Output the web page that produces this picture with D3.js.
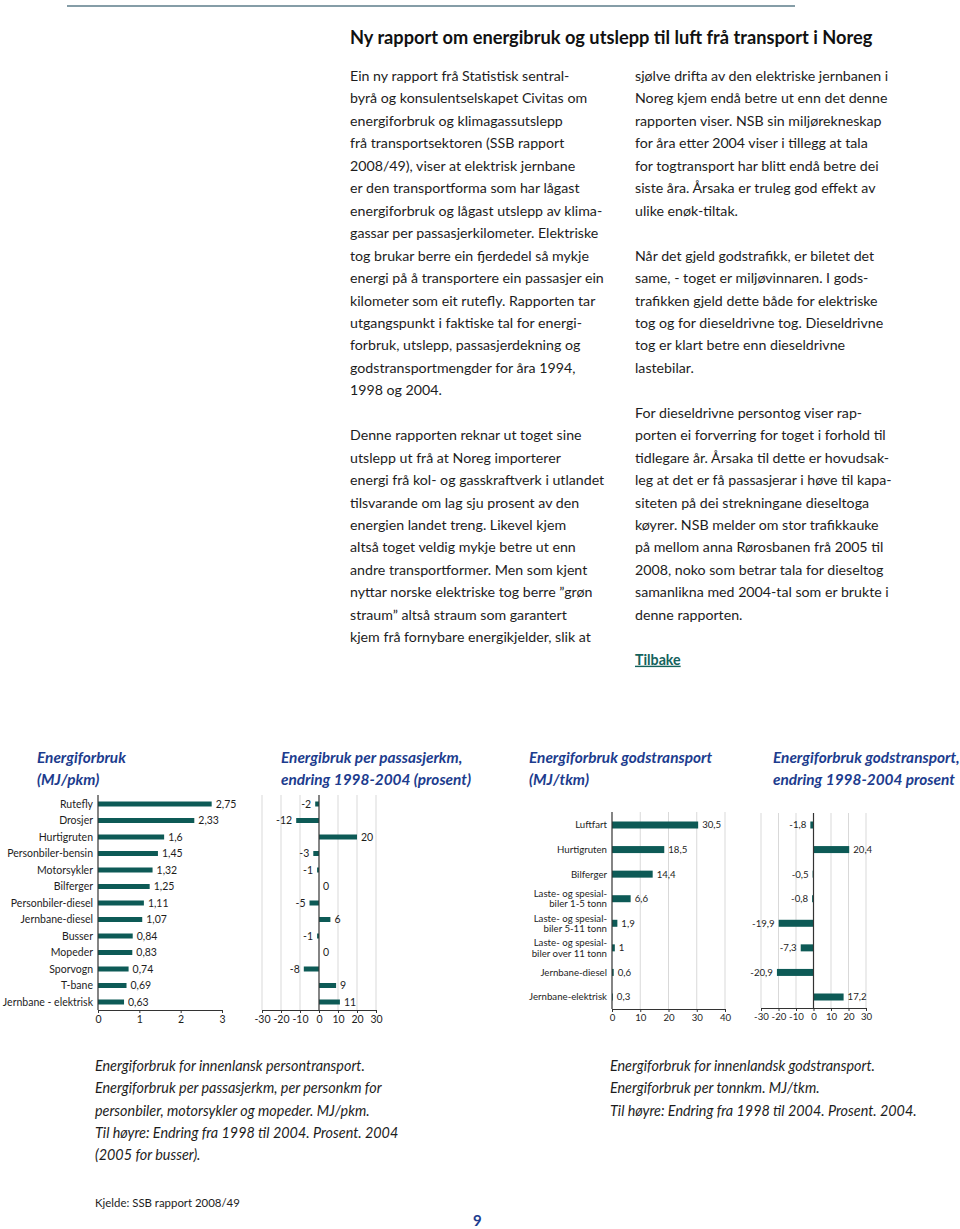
<!DOCTYPE html>
<html><head><meta charset="utf-8">
<script src="https://cdn.jsdelivr.net/npm/d3@7"></script>
<style>html,body{margin:0;padding:0;background:#fff;} svg{display:block;}</style>
</head><body>
<script>
// ---------- DATA ----------
const persCategories = ["Rutefly","Drosjer","Hurtigruten","Personbiler-bensin","Motorsykler","Bilferger","Personbiler-diesel","Jernbane-diesel","Busser","Mopeder","Sporvogn","T-bane","Jernbane - elektrisk"];
const persEnergy = [2.75,2.33,1.6,1.45,1.32,1.25,1.11,1.07,0.84,0.83,0.74,0.69,0.63];
const persChange = [-2,-12,20,-3,-1,0,-5,6,-1,0,-8,9,11];
const persEnergyTicks = [0,1,2,3];
const changeTicks = [-30,-20,-10,0,10,20,30];

const godsCategories = ["Luftfart","Hurtigruten","Bilferger","Laste- og spesial-\nbiler 1-5 tonn","Laste- og spesial-\nbiler 5-11 tonn","Laste- og spesial-\nbiler over 11 tonn","Jernbane-diesel","Jernbane-elektrisk"];
const godsEnergy = [30.5,18.5,14.4,6.6,1.9,1,0.6,0.3];
const godsChange = [-1.8,20.4,-0.5,-0.8,-19.9,-7.3,-20.9,17.2];
const godsEnergyTicks = [0,10,20,30,40];

const chartTitles = [
  ["Energiforbruk","(MJ/pkm)"],
  ["Energibruk per passasjerkm,","endring 1998-2004 (prosent)"],
  ["Energiforbruk godstransport","(MJ/tkm)"],
  ["Energiforbruk godstransport,","endring 1998-2004 prosent"]
];

const pageTitle = "Ny rapport om energibruk og utslepp til luft frå transport i Noreg";
const col1Lines = [
"Ein ny rapport frå Statistisk sentral-",
"byrå og konsulentselskapet Civitas om",
"energiforbruk og klimagassutslepp",
"frå transportsektoren (SSB rapport",
"2008/49), viser at elektrisk jernbane",
"er den transportforma som har lågast",
"energiforbruk og lågast utslepp av klima-",
"gassar per passasjerkilometer. Elektriske",
"tog brukar berre ein fjerdedel så mykje",
"energi på å transportere ein passasjer ein",
"kilometer som eit rutefly. Rapporten tar",
"utgangspunkt i faktiske tal for energi-",
"forbruk, utslepp, passasjerdekning og",
"godstransportmengder for åra 1994,",
"1998 og 2004.",
"",
"Denne rapporten reknar ut toget sine",
"utslepp ut frå at Noreg importerer",
"energi frå kol- og gasskraftverk i utlandet",
"tilsvarande om lag sju prosent av den",
"energien landet treng. Likevel kjem",
"altså toget veldig mykje betre ut enn",
"andre transportformer. Men som kjent",
"nyttar norske elektriske tog berre ”grøn",
"straum” altså straum som garantert",
"kjem frå fornybare energikjelder, slik at"
];
const col2Lines = [
"sjølve drifta av den elektriske jernbanen i",
"Noreg kjem endå betre ut enn det denne",
"rapporten viser. NSB sin miljørekneskap",
"for åra etter 2004 viser i tillegg at tala",
"for togtransport har blitt endå betre dei",
"siste åra. Årsaka er truleg god effekt av",
"ulike enøk-tiltak.",
"",
"Når det gjeld godstrafikk, er biletet det",
"same, - toget er miljøvinnaren. I gods-",
"trafikken gjeld dette både for elektriske",
"tog og for dieseldrivne tog. Dieseldrivne",
"tog er klart betre enn  dieseldrivne",
"lastebilar.",
"",
"For dieseldrivne persontog viser rap-",
"porten ei forverring for toget i forhold til",
"tidlegare år. Årsaka til dette er hovudsak-",
"leg at det er få passasjerar i høve til kapa-",
"siteten på dei strekningane dieseltoga",
"køyrer. NSB melder om stor trafikkauke",
"på mellom anna Rørosbanen frå 2005 til",
"2008, noko som betrar tala for dieseltog",
"samanlikna med 2004-tal som er brukte i",
"denne rapporten."
];
const backLink = "Tilbake";
const caption1 = [
"Energiforbruk for innenlansk persontransport.",
"Energiforbruk per passasjerkm, per personkm for",
"personbiler, motorsykler og mopeder. MJ/pkm.",
"Til høyre: Endring fra 1998 til 2004. Prosent. 2004",
"(2005 for busser)."
];
const caption2 = [
"Energiforbruk for innenlandsk godstransport.",
"Energiforbruk per tonnkm. MJ/tkm.",
"Til høyre: Endring fra 1998 til 2004. Prosent. 2004."
];
const sourceNote = "Kjelde: SSB rapport 2008/49";
const pageNumber = "9";

// ---------- DRAWING ----------
const W = 960, H = 1229;
const FONT = "Lato, 'Open Sans', sans-serif";
const BAR = "#0d5a56", NAVY = "#1c3c8e", INK = "#1d1d1d", GRID = "#d9d9d9";

const svg = d3.select("body").append("svg").attr("width", W).attr("height", H);

function fitSize(str, weight, style, target) {
  const t = svg.append("text").attr("font-family", FONT).attr("font-weight", weight)
    .attr("font-style", style).attr("font-size", 100).text(str);
  const w = t.node().getComputedTextLength();
  t.remove();
  return 100 * target / w;
}
const fmt = v => String(v).replace(".", ",");

// top rule
svg.append("line").attr("x1", 67).attr("x2", 795).attr("y1", 6).attr("y2", 6)
  .attr("stroke", "#5d7d8a").attr("stroke-width", 1.5);

// page title
const titleSize = fitSize(pageTitle, 700, "normal", 523);
svg.append("text").attr("x", 350).attr("y", 44).attr("font-family", FONT).attr("font-weight", 700)
  .attr("font-size", titleSize).attr("fill", "#111").text(pageTitle);

// body text
const bodySize = fitSize(col1Lines[9], 400, "normal", 254);
const LH = 22.45;
function block(lines, x, y0, opts = {}) {
  svg.append("g").selectAll("text").data(lines).join("text")
    .attr("x", x).attr("y", (d, i) => y0 + i * (opts.lh || LH))
    .attr("font-family", FONT).attr("font-size", opts.size || bodySize)
    .attr("font-style", opts.style || "normal").attr("fill", INK).text(d => d);
}
block(col1Lines, 350, 81);
block(col2Lines, 635, 81);
svg.append("text").attr("x", 635).attr("y", 81 + 26 * LH).attr("font-family", FONT)
  .attr("font-weight", 700).attr("font-size", bodySize).attr("fill", "#13625c")
  .attr("text-decoration", "underline").text(backLink);

// chart titles
const ctSize = fitSize("Energiforbruk", 700, "italic", 89);
const titleX = [37, 281, 529, 773];
chartTitles.forEach((t, i) => {
  svg.append("g").selectAll("text").data(t).join("text")
    .attr("x", titleX[i]).attr("y", (d, j) => 763 + j * 22)
    .attr("font-family", FONT).attr("font-weight", 700).attr("font-style", "italic")
    .attr("font-size", ctSize).attr("fill", NAVY).text(d => d);
});

const labSize = fitSize("Personbiler-bensin", 400, "normal", 86);
const godsLabSize = fitSize("Jernbane-elektrisk", 400, "normal", 78);

function barChart(cfg) {
  const g = svg.append("g");
  const x = d3.scaleLinear().domain(cfg.domain).range(cfg.xr);
  const y = d3.scalePoint().domain(d3.range(cfg.values.length)).range(cfg.yr);
  g.selectAll("line.grid").data(cfg.grid).join("line").attr("class", "grid")
    .attr("x1", d => x(d)).attr("x2", d => x(d)).attr("y1", cfg.top).attr("y2", cfg.bottom)
    .attr("stroke", GRID).attr("stroke-width", 1);
  g.selectAll("rect").data(cfg.values).join("rect")
    .attr("x", d => Math.min(x(0), x(d))).attr("width", d => Math.abs(x(d) - x(0)))
    .attr("y", (d, i) => y(i) - cfg.barH / 2).attr("height", cfg.barH).attr("fill", BAR);
  g.append("line").attr("x1", x(0)).attr("x2", x(0)).attr("y1", cfg.top).attr("y2", cfg.bottom)
    .attr("stroke", "#333").attr("stroke-width", 1.2);
  const ax = g.append("g").attr("transform", `translate(0,${cfg.bottom})`)
    .call(d3.axisBottom(x).tickValues(cfg.ticks).tickSize(3).tickSizeOuter(0).tickFormat(d => String(d)));
  ax.select(".domain").attr("stroke", "#333").attr("stroke-width", 1.2);
  ax.selectAll(".tick line").attr("stroke", "#333");
  ax.selectAll(".tick text").attr("font-family", FONT).attr("font-size", cfg.tickSize)
    .attr("fill", INK).attr("dy", "0.62em");
  g.selectAll("text.val").data(cfg.values).join("text").attr("class", "val")
    .attr("x", d => d < 0 ? x(d) - 4 : x(d) + 4)
    .attr("y", (d, i) => y(i)).attr("dy", "0.36em")
    .attr("text-anchor", d => d < 0 ? "end" : "start")
    .attr("font-family", FONT).attr("font-size", cfg.valSize).attr("fill", INK)
    .text(d => fmt(d));
  if (cfg.cats) {
    const lab = g.selectAll("text.cat").data(cfg.cats).join("text").attr("class", "cat")
      .attr("text-anchor", "end").attr("font-family", FONT).attr("font-size", cfg.catSize)
      .attr("fill", INK);
    lab.each(function (d, i) {
      const parts = d.split("\n");
      const lh = cfg.catLH;
      d3.select(this).selectAll("tspan").data(parts).join("tspan")
        .attr("x", cfg.catX)
        .attr("y", (p, j) => y(i) + (j - (parts.length - 1) / 2) * lh)
        .attr("dy", "0.36em").text(p => p);
    });
  }
}

const persY = [804, 1002];
barChart({ domain: [0, 3], xr: [98, 222], yr: persY, top: 795, bottom: 1010,
  values: persEnergy, cats: persCategories, catX: 93, catSize: labSize, catLH: 10,
  ticks: persEnergyTicks, grid: [], barH: 5, tickSize: labSize, valSize: labSize });
barChart({ domain: [-30, 30], xr: [262, 376], yr: persY, top: 795, bottom: 1010,
  values: persChange, ticks: changeTicks, grid: changeTicks.filter(d => d !== 0),
  barH: 5, tickSize: labSize, valSize: labSize });

const godsY = [825, 997];
barChart({ domain: [0, 40], xr: [612, 725], yr: godsY, top: 812, bottom: 1009,
  values: godsEnergy, cats: godsCategories, catX: 607, catSize: godsLabSize, catLH: 10.5,
  ticks: godsEnergyTicks, grid: [10, 20, 30, 40], barH: 7, tickSize: godsLabSize, valSize: godsLabSize });
barChart({ domain: [-30, 30], xr: [761, 866], yr: godsY, top: 813, bottom: 1008,
  values: godsChange, ticks: changeTicks, grid: changeTicks.filter(d => d !== 0),
  barH: 7, tickSize: godsLabSize, valSize: godsLabSize });

// captions
const capSize = fitSize(caption1[0], 400, "italic", 270);
block(caption1, 95, 1071, { style: "italic", size: capSize, lh: 22.25 });
block(caption2, 610, 1071, { style: "italic", size: capSize, lh: 22.25 });

const srcSize = fitSize(sourceNote, 400, "normal", 145);
svg.append("text").attr("x", 95).attr("y", 1207).attr("font-family", FONT)
  .attr("font-size", srcSize).attr("fill", INK).text(sourceNote);
svg.append("text").attr("x", 473).attr("y", 1226).attr("font-family", FONT)
  .attr("font-weight", 700).attr("font-size", 15).attr("fill", NAVY).text(pageNumber);
</script>
</body></html>
